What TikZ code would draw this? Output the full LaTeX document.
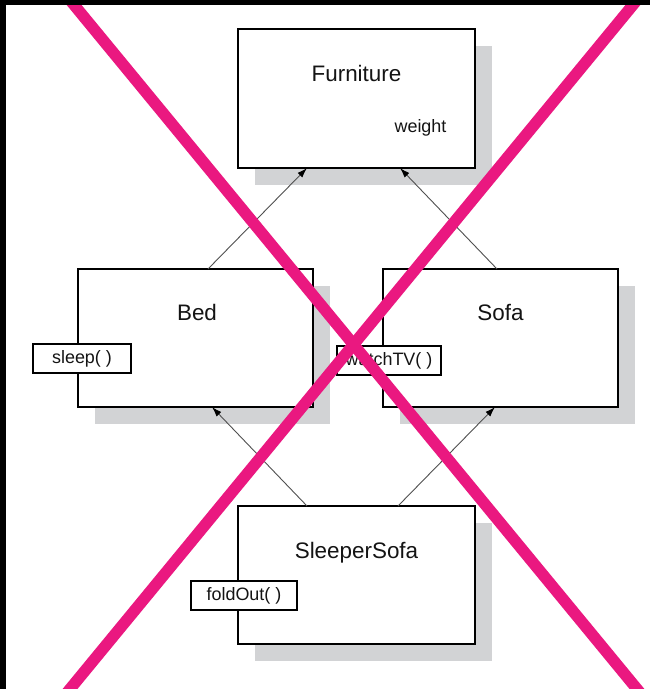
\documentclass[tikz,border=0pt]{standalone}
\usepackage{fontspec}
\setmainfont{Liberation Sans}
\usetikzlibrary{arrows.meta,calc,shadows}
\definecolor{xpink}{RGB}{234,24,128}
\definecolor{shade}{RGB}{210,211,213}
\definecolor{ink}{RGB}{20,20,20}
\definecolor{wire}{RGB}{80,80,80}
\begin{document}
\begin{tikzpicture}[x=1bp,y=-1bp,
  classbox/.style={draw=black, line width=1.4bp, fill=white, inner sep=0pt, outer sep=0pt,
    minimum width=237bp, minimum height=138bp,
    drop shadow={shadow xshift=17bp, shadow yshift=-17bp, fill=shade, opacity=1}},
  title/.style={anchor=base, inner sep=0pt, text=ink, font=\fontsize{22.5}{24}\selectfont},
  attr/.style={anchor=base, inner sep=0pt, text=ink, font=\fontsize{18}{20}\selectfont},
  method/.style={draw=black, line width=1.3bp, fill=white, inner sep=0pt, outer sep=0pt,
    minimum height=29bp, text=ink, font=\fontsize{18}{20}\selectfont},
  inherit/.style={draw=wire, line width=0.9bp, -{Latex[length=10bp,width=6.5bp,color=black]}},
  xline/.style={draw=xpink, line width=11.5bp},
  band/.style={fill=black, draw=none}]
\useasboundingbox (0,0) rectangle (650,689);
\fill[white] (0,0) rectangle (650,689);

% class boxes
\node[classbox, minimum width=237bp, minimum height=139bp] (furn) at (356.5,98.5) {};
\node[classbox, minimum width=235bp] (bed) at (195.5,338) {};
\node[classbox, minimum width=235bp] (sofa) at (500.5,338) {};
\node[classbox] (sleeper) at (356.5,575) {};

% class names and attributes
\node[title] (furnname) at ($(furn.north)+(0,53)$) {Furniture};
\node[attr] (weight) at ($(furn.north west)+(182.5,104)$) {weight};
\node[title] (bedname) at ($(bed.north)+(1.5,51)$) {Bed};
\node[title] (sofaname) at ($(sofa.north)+(0,51)$) {Sofa};
\node[title] (sleepername) at ($(sleeper.north)+(0,52)$) {SleeperSofa};

% operations sitting on the left edges
\node[method, minimum width=98bp] (sleep) at (82,358.5) {sleep( )};
\node[method, minimum width=104bp] (watch) at (389,360.5) {watchTV( )};
\node[method, minimum width=106bp] (fold) at (244,595.5) {foldOut( )};

% generalisation arrows
\draw[inherit] ($(bed.north west)+(130,0)$) -- ($(furn.south west)+(69,0)$);
\draw[inherit] ($(sofa.north west)+(114,0)$) -- ($(furn.south west)+(162,0)$);
\draw[inherit] ($(sleeper.north west)+(69,0)$) -- ($(bed.south west)+(134,0)$);
\draw[inherit] ($(sleeper.north west)+(160,0)$) -- ($(sofa.south west)+(112,0)$);

% crossing strokes
\begin{scope}
  \clip (0,0) rectangle (650,689);
  \coordinate (a1) at (70,0);
  \coordinate (a2) at (637,689);
  \coordinate (b1) at (637,0);
  \coordinate (b2) at (70,689);
  \draw[xline] ($(a1)!-0.1!(a2)$) -- ($(a1)!1.1!(a2)$);
  \draw[xline] ($(b1)!-0.1!(b2)$) -- ($(b1)!1.1!(b2)$);
\end{scope}

% dark edges
\fill[band] (0,0) rectangle (6,689);
\fill[band] (0,0) rectangle (650,5);
\end{tikzpicture}
\end{document}
